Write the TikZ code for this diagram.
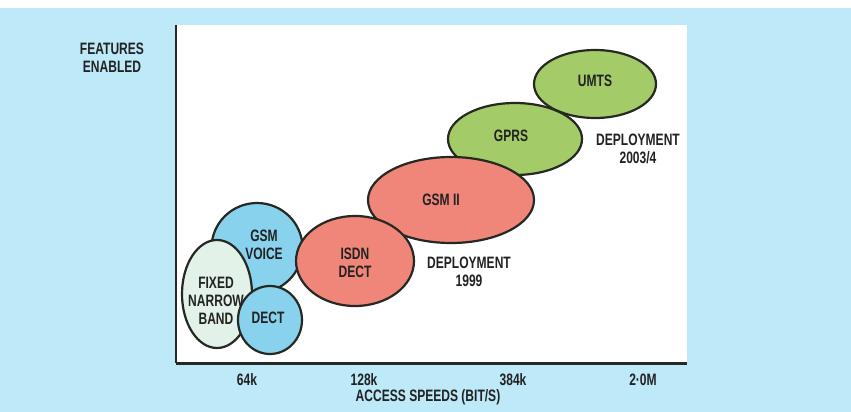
\documentclass[tikz,border=0pt]{standalone}
\usepackage{fontspec}
\setmainfont{Liberation Sans}[FakeStretch=0.73]
\usetikzlibrary{shapes.geometric}
\definecolor{panel}{RGB}{190,233,248}
\definecolor{bluefill}{RGB}{136,210,238}
\definecolor{palefill}{RGB}{226,242,232}
\definecolor{redfill}{RGB}{240,134,122}
\definecolor{greenfill}{RGB}{163,203,104}
\definecolor{rim}{RGB}{38,40,36}
\definecolor{ink}{RGB}{34,34,34}
\tikzset{
  blob/.style={ellipse, draw=rim, line width=2.2pt, inner sep=0pt},
  lbl/.style={font=\fontsize{16.5}{18}\selectfont\bfseries, text=ink, align=center, inner sep=0pt},
}
\begin{document}
\begin{tikzpicture}[x=1pt,y=-1pt]
\useasboundingbox (0,0) rectangle (851,412);
% page panel
\fill[white] (0,0) rectangle (851,412);
\fill[panel] (0,8) rectangle (851,412);
\fill[white] (176,25) rectangle (687,363);
% axes
\coordinate (top) at (176,25);
\coordinate (origin) at (176,363);
\coordinate (xend) at (687,363);
\draw[rim, line width=1.6pt] (top) -- (origin);
\draw[rim, line width=3pt] (origin) -- (xend);
% technology ellipses
\node[blob, fill=greenfill, minimum width=122pt, minimum height=68pt] (umts) at (595,84) {};
\node[blob, fill=greenfill, minimum width=134pt, minimum height=72pt] (gprs) at (515,139) {};
\node[blob, fill=redfill, minimum width=166pt, minimum height=86pt] (gsm2) at (451,200) {};
\node[blob, fill=bluefill, minimum width=91pt, minimum height=90pt] (gsmv) at (257,248) {};
\node[blob, fill=redfill, minimum width=118pt, minimum height=90pt] (isdn) at (355,261) {};
\node[blob, fill=palefill, minimum width=70pt, minimum height=108pt] (fixed) at (217,294) {};
\node[blob, fill=bluefill, minimum width=64pt, minimum height=68pt] (dect) at (270,320) {};
% ellipse captions
\node[lbl] (umtsT) at (595,81) {UMTS};
\node[lbl] (gprsT) at (511,136) {GPRS};
\node[lbl] (gsm2T) at (441,200) {GSM II};
\node[lbl] (isdnT) at (355,263) {ISDN\\DECT};
\node[lbl] (gsmvT) at (264,245) {GSM\\VOICE};
\node[lbl] (fixedT) at (216,301) {FIXED\\NARROW\\BAND};
\node[lbl] (dectT) at (268,318) {DECT};
% deployment notes
\node[lbl] (dep99) at (469,272) {DEPLOYMENT\\1999};
\node[lbl] (dep03) at (638,149) {DEPLOYMENT\\2003/4};
% axis titles and ticks
\node[lbl] (ylab) at (112,58) {FEATURES\\ENABLED};
\node[lbl] (t64) at (247,380) {64k};
\node[lbl] (t128) at (364,380) {128k};
\node[lbl] (t384) at (513,380) {384k};
\node[lbl] (t2m) at (643,380) {2·0M};
\node[lbl] (xlab) at (428,397) {ACCESS SPEEDS (BIT/S)};
\end{tikzpicture}
\end{document}
